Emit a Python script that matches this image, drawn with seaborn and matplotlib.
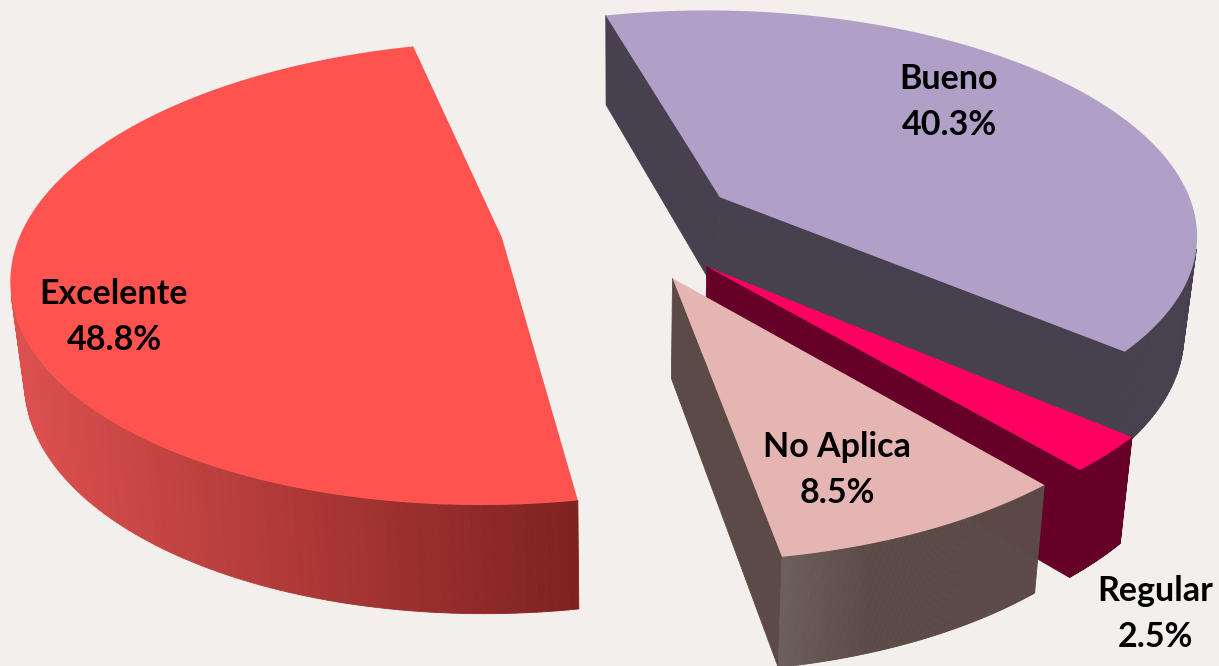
import numpy as np
import matplotlib
matplotlib.use("Agg")
import matplotlib.pyplot as plt
import seaborn as sns

categories = ["Excelente", "No Aplica", "Regular", "Bueno"]
percent = [48.8, 8.5, 2.5, 40.3]
label_text = ["48.8%", "8.5%", "2.5%", "40.3%"]

top_colors = ["#ff5350", "#e4b5b3", "#ff0062", "#b09fc7"]
face_colors = ["#7f2220", "#5c4a46", "#660027", "#47404f"]
rim_stops = [["#dc504e", "#7f2220"],
             ["#6c5e5a", "#5c4a46", "#5c4a46", "#5c4a46"],
             ["#660027", "#660027"],
             ["#47404f", "#47404f"]]
label_pos = [(114, 317), (837, 470), (1155, 614), (949, 102)]
draw_order = [0, 3, 2, 1]

# perspective settings of the fake 3d pie, in pixels
center_x, center_y = 620, 226
scale_x, scale_y = 479, 223
bottom_scale = 0.977
persp = 0.151
depth = 98
explode = 0.25
start_angle = 104.3


def project(px, py, low=False):
    den = 1 + persp * py
    sx = scale_x * bottom_scale if low else scale_x
    x = center_x + sx * px / den
    y = center_y - scale_y * py / den
    if low:
        y = y + depth / den ** 0.6
    return x, y


def area(xs, ys):
    return 0.5 * np.sum(xs * np.roll(ys, -1) - np.roll(xs, -1) * ys)


def side_quad(p1, p2):
    # side quad below top edge p1-p2, None if it faces away from the viewer
    xa, ya = project(*p1)
    xb, yb = project(*p2)
    xc, yc = project(*p2, low=True)
    xd, yd = project(*p1, low=True)
    xs = np.array([xa, xb, xc, xd])
    ys = np.array([ya, yb, yc, yd])
    if area(xs, ys) < 0:
        return None
    return xs, ys


sns.set_theme(style="white")
plt.rcParams["font.family"] = ["Lato", "DejaVu Sans"]
background = "#f3efec"

fig = plt.figure(figsize=(12.19, 6.66), dpi=100, facecolor=background)
ax = fig.add_axes([0, 0, 1, 1])
ax.set_facecolor(background)
ax.set_xlim(0, 1219)
ax.set_ylim(666, 0)
ax.axis("off")

shares = np.array(percent) / np.sum(percent) * 360
ends = start_angle + np.cumsum(shares)
starts = ends - shares

for i in draw_order:
    t = np.radians(np.linspace(starts[i], ends[i], 161))
    mid = np.radians((starts[i] + ends[i]) / 2)
    ox, oy = explode * np.cos(mid), explode * np.sin(mid)
    rim = [(ox + np.cos(a), oy + np.sin(a)) for a in t]
    apex = (ox, oy)

    # straight cut faces first, they sit behind the rim
    for edge in [(apex, rim[0]), (rim[-1], apex)]:
        quad = side_quad(*edge)
        if quad is not None:
            ax.fill(quad[0], quad[1], color=face_colors[i], lw=0.6, zorder=2)

    # rim wall, shaded from left to right on the picture
    quads = [side_quad(rim[j], rim[j + 1]) for j in range(len(rim) - 1)]
    quads = [q for q in quads if q is not None]
    mids = np.array([q[0].mean() for q in quads])
    pos = (mids - mids.min()) / (mids.max() - mids.min())
    shades = sns.blend_palette(rim_stops[i], n_colors=100)
    for q, p in zip(quads, pos):
        ax.fill(q[0], q[1], color=shades[int(p * 99)], lw=0.6, zorder=2)

    pts = [project(*p) for p in [apex] + rim]
    ax.fill([p[0] for p in pts], [p[1] for p in pts], color=top_colors[i], lw=0, zorder=3)

for name, txt, pos in zip(categories, label_text, label_pos):
    ax.text(pos[0], pos[1], f"{name}\n{txt}", ha="center", va="center", fontsize=24.5,
            fontweight="bold", color="black", linespacing=1.55, zorder=4)

fig.savefig("out.png", dpi=100, facecolor=background)
